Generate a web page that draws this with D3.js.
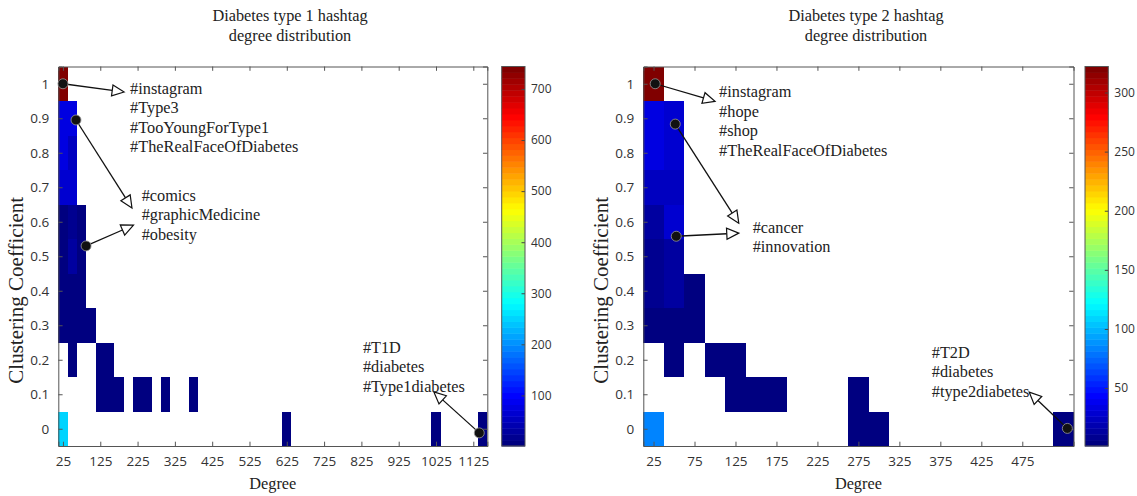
<!DOCTYPE html>
<html lang="en">
<head>
    <meta charset="UTF-8">
    <title>Hashtag degree distribution</title>
    <script src="https://d3js.org/d3.v7.min.js"></script>
    <style>
        html, body {
            margin: 0;
            padding: 0;
            background: #fff;
            overflow: hidden;
        }
        svg {
            display: block;
        }
        .tick-label {
            font-family: "Open Sans", "Liberation Sans", sans-serif;
            font-size: 13.5px;
            fill: #333;
        }
        .cb-label {
            font-family: "Open Sans", "Liberation Sans", sans-serif;
            font-size: 12px;
            fill: #333;
        }
        .serif {
            font-family: "Liberation Serif", "Times New Roman", serif;
            font-size: 16.3px;
            fill: #222;
        }
        .ylabel {
            font-size: 21px;
        }
    </style>
</head>
<body>
<svg width="1137" height="496"></svg>
<script>
    // [degree bin centre, clustering coefficient, number of hashtags]
    const type1Cells = [
        [25, 1.0, 744], [25, 0.9, 76], [25, 0.8, 72], [25, 0.7, 66], [25, 0.6, 6],
        [25, 0.5, 8], [25, 0.4, 10], [25, 0.3, 12], [25, 0.0, 245],
        [50, 0.9, 75], [50, 0.8, 56], [50, 0.7, 62], [50, 0.6, 24], [50, 0.5, 30],
        [50, 0.4, 12], [50, 0.3, 10], [50, 0.2, 3],
        [75, 0.6, 8], [75, 0.5, 8], [75, 0.4, 7], [75, 0.3, 6],
        [100, 0.3, 3],
        [125, 0.2, 2], [125, 0.1, 2], [150, 0.2, 1], [150, 0.1, 2], [175, 0.1, 1],
        [225, 0.1, 1], [250, 0.1, 1], [300, 0.1, 1], [375, 0.1, 1],
        [625, 0.0, 1], [1025, 0.0, 1], [1150, 0.0, 1]
    ];
    const type2Cells = [
        [25, 1.0, 322], [25, 0.9, 34], [25, 0.8, 36], [25, 0.7, 22], [25, 0.6, 14],
        [25, 0.5, 7], [25, 0.4, 7], [25, 0.3, 6], [25, 0.0, 82],
        [50, 0.9, 28], [50, 0.8, 27], [50, 0.7, 22], [50, 0.6, 31], [50, 0.5, 16],
        [50, 0.4, 12], [50, 0.3, 6], [50, 0.2, 2],
        [75, 0.4, 3], [75, 0.3, 3],
        [100, 0.2, 1], [125, 0.2, 1], [125, 0.1, 1], [150, 0.1, 1], [175, 0.1, 1],
        [275, 0.1, 1], [275, 0.0, 1], [300, 0.0, 1], [525, 0.0, 1]
    ];

    const binWidth = 25;
    const coefBins = [0, 0.1, 0.2, 0.3, 0.4, 0.5, 0.6, 0.7, 0.8, 0.9, 1];
    const type1DegreeTicks = d3.range(25, 1126, 100);
    const type2DegreeTicks = d3.range(25, 476, 50);
    const type1ColorTicks = [100, 200, 300, 400, 500, 600, 700];
    const type2ColorTicks = [50, 100, 150, 200, 250, 300];

    // annotations: dot [deg, coef] -> arrow tip [deg, coef]; labels at [deg, coef]
    const type1Arrows = [
        [[25, 1.0], [189, 0.976]],
        [[60, 0.895], [210, 0.64]],
        [[87, 0.53], [214, 0.59]],
        [[1141, -0.012], [1019, 0.107]]
    ];
    const type1Labels = [
        [[205, 0.988], ["#instagram", "#Type3", "#TooYoungForType1", "#TheRealFaceOfDiabetes"]],
        [[236, 0.678], ["#comics", "#graphicMedicine", "#obesity"]],
        [[829, 0.238], ["#T1D", "#diabetes", "#Type1diabetes"]]
    ];
    const type2Arrows = [
        [[27, 1.0], [100, 0.949]],
        [[51.5, 0.883], [129, 0.596]],
        [[52.7, 0.558], [129, 0.567]],
        [[530, 0.001], [483.5, 0.106]]
    ];
    const type2Labels = [
        [[105, 0.978], ["#instagram", "#hope", "#shop", "#TheRealFaceOfDiabetes"]],
        [[146, 0.585], ["#cancer", "#innovation"]],
        [[364.5, 0.223], ["#T2D", "#diabetes", "#type2diabetes"]]
    ];

    const svg = d3.select("svg");

    // MATLAB style jet colormap, 64 levels
    function jet(t) {
        const c = v => Math.max(0, Math.min(1, v));
        const r = c(1.5 - Math.abs(4 * t - 3));
        const g = c(1.5 - Math.abs(4 * t - 2));
        const b = c(1.5 - Math.abs(4 * t - 1));
        return d3.rgb(r * 255, g * 255, b * 255).toString();
    }
    function jetScale(min, max) {
        return v => {
            let i = Math.floor((v - min) / (max - min) * 64);
            i = Math.max(0, Math.min(63, i));
            return jet(i / 63);
        };
    }

    function drawPanel(opt) {
        const g = svg.append("g");
        const x = d3.scaleLinear()
            .domain([binWidth / 2, opt.maxDegree + binWidth / 2])
            .range([opt.left, opt.right]);
        const y = d3.scaleLinear().domain([-0.05, 1.05]).range([446, 66.5]);
        const minCount = d3.min(opt.cells, d => d[2]);
        const maxCount = d3.max(opt.cells, d => d[2]);
        const color = jetScale(minCount, maxCount);

        // heatmap cells
        g.append("g").selectAll("rect")
            .data(opt.cells)
            .join("rect")
            .attr("x", d => x(d[0] - binWidth / 2))
            .attr("width", d => x(d[0] + binWidth / 2) - x(d[0] - binWidth / 2))
            .attr("y", d => y(d[1] + 0.05))
            .attr("height", d => y(d[1] - 0.05) - y(d[1] + 0.05))
            .attr("fill", d => color(d[2]))
            .attr("shape-rendering", "crispEdges");

        // axes, ticks pointing inward on all four sides
        const tl = 4.3;
        const axisColor = "#555";
        const xa = g.append("g").attr("transform", `translate(0,${y(-0.05)})`)
            .call(d3.axisBottom(x).tickValues(opt.degreeTicks).tickSize(-tl).tickPadding(10)
                .tickFormat(d3.format("d")));
        const xt = g.append("g").attr("transform", `translate(0,${y(1.05)})`)
            .call(d3.axisTop(x).tickValues(opt.degreeTicks).tickSize(-tl).tickFormat(""));
        const ya = g.append("g").attr("transform", `translate(${opt.left},0)`)
            .call(d3.axisLeft(y).tickValues(coefBins).tickSize(-tl).tickPadding(9)
                .tickFormat(d => String(+d.toFixed(1))));
        const yr = g.append("g").attr("transform", `translate(${opt.right},0)`)
            .call(d3.axisRight(y).tickValues(coefBins).tickSize(-tl).tickFormat(""));
        [xa, xt, ya, yr].forEach(a => {
            a.select(".domain").attr("stroke", axisColor);
            a.selectAll(".tick line").attr("stroke", axisColor);
            a.selectAll(".tick text").attr("class", "tick-label").attr("font-size", null)
                .attr("font-family", null);
        });

        // colorbar
        const cb = d3.scaleLinear().domain([minCount, maxCount]).range([446, 66.5]);
        const levels = d3.range(64);
        const step = (maxCount - minCount) / 64;
        g.append("g").selectAll("rect")
            .data(levels)
            .join("rect")
            .attr("x", opt.cbLeft)
            .attr("width", opt.cbWidth)
            .attr("y", i => cb(minCount + (i + 1) * step))
            .attr("height", i => cb(minCount + i * step) - cb(minCount + (i + 1) * step) + 0.5)
            .attr("fill", i => jet(i / 63));
        const cba = g.append("g").attr("transform", `translate(${opt.cbLeft + opt.cbWidth},0)`)
            .call(d3.axisRight(cb).tickValues(opt.colorTicks).tickSize(-3.5).tickPadding(6));
        cba.select(".domain").remove();
        cba.selectAll(".tick line").attr("stroke", "#444");
        cba.selectAll(".tick text").attr("class", "cb-label").attr("font-size", null)
            .attr("font-family", null);
        g.append("rect")
            .attr("x", opt.cbLeft).attr("y", 66.5)
            .attr("width", opt.cbWidth).attr("height", 446 - 66.5)
            .attr("fill", "none").attr("stroke", axisColor);

        // titles and axis labels
        g.append("text").attr("class", "serif")
            .attr("x", opt.titleX).attr("y", 15)
            .attr("text-anchor", "middle").attr("dominant-baseline", "central")
            .selectAll("tspan").data(opt.title).join("tspan")
            .attr("x", opt.titleX).attr("dy", (d, i) => i ? 20 : 0).text(d => d);
        g.append("text").attr("class", "serif")
            .attr("x", (opt.left + opt.right) / 2).attr("y", 489)
            .attr("text-anchor", "middle").text("Degree");
        g.append("text").attr("class", "serif ylabel")
            .attr("transform", `translate(${opt.left - 35},${(66.5 + 446) / 2 + 34}) rotate(-90)`)
            .attr("text-anchor", "middle").text("Clustering Coefficient");

        // arrows from dots to labels
        opt.arrows.forEach(([from, to]) => {
            const x1 = x(from[0]), y1 = y(from[1]);
            const x2 = x(to[0]), y2 = y(to[1]);
            const ang = Math.atan2(y2 - y1, x2 - x1);
            const len = 12, half = 5.5;
            const bx = x2 - len * Math.cos(ang), by = y2 - len * Math.sin(ang);
            const px = -Math.sin(ang) * half, py = Math.cos(ang) * half;
            g.append("line")
                .attr("x1", x1).attr("y1", y1).attr("x2", bx).attr("y2", by)
                .attr("stroke", "#111").attr("stroke-width", 1.3);
            g.append("path")
                .attr("d", `M${x2},${y2}L${bx + px},${by + py}L${bx - px},${by - py}Z`)
                .attr("fill", "#fff").attr("stroke", "#111").attr("stroke-width", 1.2);
            g.append("circle")
                .attr("cx", x1).attr("cy", y1).attr("r", 5)
                .attr("fill", "#111").attr("stroke", "#999").attr("stroke-width", 0.8);
        });

        opt.labels.forEach(([pos, lines]) => {
            g.append("text").attr("class", "serif")
                .attr("dominant-baseline", "central")
                .selectAll("tspan").data(lines).join("tspan")
                .attr("x", x(pos[0]))
                .attr("y", (d, i) => y(pos[1]) + i * 19.5)
                .text(d => d);
        });
    }

    drawPanel({
        cells: type1Cells,
        maxDegree: 1150,
        left: 58.3, right: 487.3,
        degreeTicks: type1DegreeTicks,
        colorTicks: type1ColorTicks,
        cbLeft: 501.7, cbWidth: 23.3,
        titleX: 290,
        title: ["Diabetes type 1 hashtag", "degree distribution"],
        arrows: type1Arrows,
        labels: type1Labels
    });

    drawPanel({
        cells: type2Cells,
        maxDegree: 525,
        left: 643.3, right: 1073.5,
        degreeTicks: type2DegreeTicks,
        colorTicks: type2ColorTicks,
        cbLeft: 1085, cbWidth: 23.3,
        titleX: 866,
        title: ["Diabetes type 2 hashtag", "degree distribution"],
        arrows: type2Arrows,
        labels: type2Labels
    });
</script>
</body>
</html>
